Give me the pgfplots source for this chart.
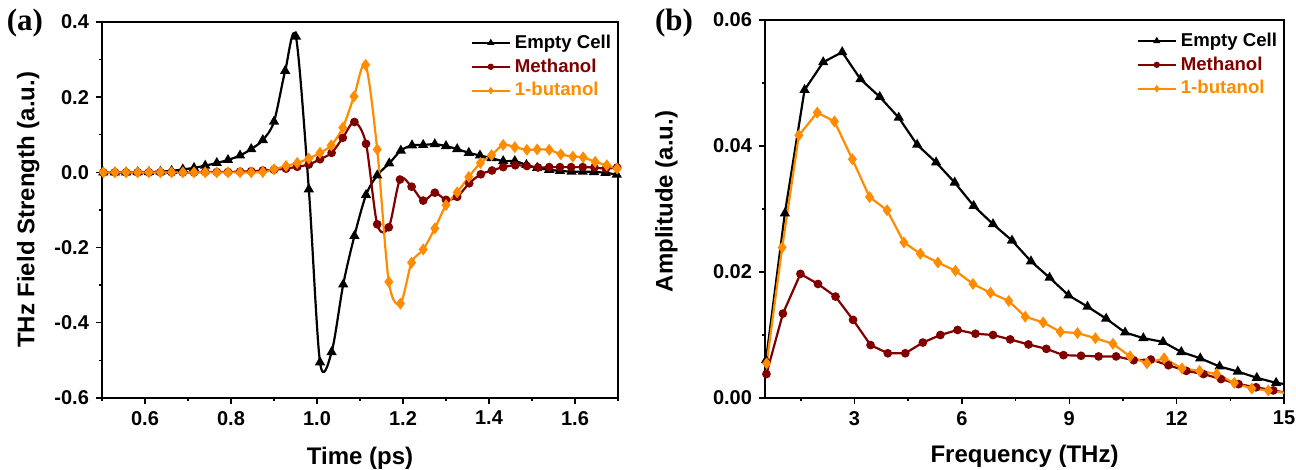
\documentclass[border=0pt]{standalone}
\usepackage{pgfplots}
\pgfplotsset{compat=1.18}
\usepackage{fontspec}
\setmainfont{Liberation Sans}
\newfontfamily\serifbf{Liberation Serif}
\definecolor{cred}{RGB}{128,0,0}
\definecolor{corange}{RGB}{255,140,0}
\pgfplotsset{
 myaxis/.style={
  scale only axis, anchor=south west,
  axis line style={line width=0.8pt},
  tick align=outside, xtick pos=bottom, ytick pos=left,
  major tick length=3pt, minor tick length=1.6pt,
  every tick/.style={black, line width=0.7pt},
  tick label style={font=\fontsize{10}{12}\selectfont\bfseries},
  label style={font=\fontsize{12}{14}\selectfont\bfseries},
  /pgf/number format/assume math mode=true,
  legend style={draw=none, fill=none, font=\fontsize{9.3}{11}\selectfont\bfseries,
     row sep=-0.3pt, inner sep=0pt, cells={anchor=west}},
  legend image code/.code={
     \draw[mark repeat=2, mark phase=2, #1, mark size=1pt] plot coordinates {(0pt,0pt) (9.5pt,0pt) (19pt,0pt)};
  },
 },
 blk/.style={black, line width=1.1pt, mark=triangle*, mark size=1.9pt, mark options={solid}},
 red/.style={cred, line width=1.1pt, mark=*, mark size=1.6pt, mark options={solid}},
 org/.style={corange, line width=1.1pt, mark=diamond*, mark size=2.1pt, mark options={solid}},
}
\begin{document}
\begin{tikzpicture}
\path[use as bounding box] (0,0) rectangle (648pt,235pt);
\node[font=\serifbf\fontsize{15.5}{17}\selectfont\bfseries] at (12.5pt,223.5pt) {(a)};
\node[font=\serifbf\fontsize{15.5}{17}\selectfont\bfseries] at (337pt,223.5pt) {(b)};
\begin{axis}[myaxis, at={(51pt,36pt)}, width=258pt, height=188pt,
  xmin=0.5, xmax=1.7, ymin=-0.6, ymax=0.4,
  xtick={0.6,0.8,...,1.61}, minor xtick={0.5,0.7,...,1.71},
  ytick={-0.6,-0.4,...,0.41}, minor ytick={-0.5,-0.3,...,0.31},
  xticklabel style={/pgf/number format/.cd, fixed, fixed zerofill, precision=1},
  yticklabel style={/pgf/number format/.cd, fixed, fixed zerofill, precision=1},
  xlabel={Time (ps)}, ylabel={THz Field Strength (a.u.)},
  xlabel style={at={(axis description cs:0.5,-0.16)}, anchor=center},
  ylabel style={at={(axis description cs:-0.143,0.5)}, anchor=center},
  legend style={at={(rel axis cs:0.995,0.978)}, anchor=north east},
]
\addplot[blk, smooth] coordinates {
(0.503,0.000) (0.530,0.000) (0.556,0.000) (0.583,0.001) (0.609,0.001) (0.636,0.002)
(0.662,0.004) (0.688,0.008) (0.714,0.012) (0.740,0.018) (0.767,0.025) (0.793,0.033)
(0.821,0.045) (0.847,0.062) (0.874,0.086) (0.900,0.135) (0.926,0.270) (0.951,0.361)
(0.981,-0.045) (1.007,-0.505) (1.034,-0.478) (1.061,-0.298) (1.087,-0.169) (1.114,-0.060)
(1.140,-0.008) (1.168,0.024) (1.195,0.058) (1.221,0.072) (1.247,0.073) (1.274,0.075)
(1.300,0.070) (1.326,0.062) (1.353,0.052) (1.379,0.045) (1.406,0.038) (1.433,0.030)
(1.460,0.030) (1.487,0.020) (1.512,0.012) (1.540,0.007) (1.565,0.004) (1.592,0.002)
(1.618,0.002) (1.644,0.001) (1.671,-0.001) (1.697,-0.006)};
\addlegendentry{\textcolor{black}{Empty Cell}}
\addplot[red, smooth] coordinates {
(0.503,0.000) (0.530,0.000) (0.556,0.000) (0.583,0.000) (0.609,0.000) (0.636,0.000)
(0.662,0.000) (0.688,0.000) (0.714,0.000) (0.740,0.001) (0.767,0.001) (0.793,0.001)
(0.821,0.002) (0.847,0.003) (0.874,0.005) (0.900,0.007) (0.928,0.010) (0.954,0.015)
(0.981,0.021) (1.007,0.035) (1.034,0.052) (1.060,0.092) (1.087,0.134) (1.114,0.076)
(1.140,-0.138) (1.167,-0.146) (1.193,-0.019) (1.220,-0.038) (1.247,-0.075) (1.274,-0.054)
(1.300,-0.073) (1.326,-0.065) (1.354,-0.029) (1.381,-0.005) (1.407,0.005) (1.433,0.014)
(1.461,0.019) (1.488,0.017) (1.514,0.013) (1.540,0.014) (1.565,0.014) (1.591,0.014)
(1.618,0.014) (1.645,0.013) (1.672,0.010) (1.698,0.013)};
\addlegendentry{\textcolor{cred}{Methanol}}
\addplot[org, smooth] coordinates {
(0.503,0.000) (0.530,0.000) (0.556,0.000) (0.583,0.000) (0.609,0.000) (0.636,0.000)
(0.662,0.000) (0.688,0.000) (0.714,0.000) (0.740,0.000) (0.767,0.000) (0.793,0.000)
(0.821,0.000) (0.847,0.000) (0.874,0.001) (0.900,0.008) (0.928,0.017) (0.954,0.025)
(0.981,0.037) (1.007,0.052) (1.033,0.072) (1.060,0.119) (1.086,0.202) (1.113,0.286)
(1.140,0.061) (1.167,-0.291) (1.194,-0.349) (1.220,-0.240) (1.247,-0.205) (1.274,-0.149)
(1.300,-0.087) (1.326,-0.053) (1.353,-0.012) (1.380,0.025) (1.406,0.046) (1.433,0.073)
(1.460,0.067) (1.488,0.060) (1.512,0.061) (1.540,0.060) (1.567,0.048) (1.595,0.042)
(1.619,0.040) (1.647,0.028) (1.674,0.019) (1.698,0.010)};
\addlegendentry{\textcolor{corange}{1-butanol}}
\end{axis}
\begin{axis}[myaxis, at={(382.5pt,36pt)}, width=259.5pt, height=189pt,
  xmin=0.5, xmax=15, ymin=0, ymax=0.06,
  xtick={3,6,9,12,15}, minor xtick={1.5,4.5,7.5,10.5,13.5},
  ytick={0,0.02,0.04,0.06}, minor ytick={0.01,0.03,0.05},
  yticklabel style={/pgf/number format/.cd, fixed, fixed zerofill, precision=2},
  scaled y ticks=false,
  xlabel={Frequency (THz)}, ylabel={Amplitude (a.u.)},
  xlabel style={at={(axis description cs:0.5,-0.155)}, anchor=center},
  ylabel style={at={(axis description cs:-0.19,0.52)}, anchor=center},
  legend style={at={(rel axis cs:0.995,0.978)}, anchor=north east},
]
\addplot[blk] coordinates {
(0.528,0.0060) (1.055,0.0293) (1.605,0.0489) (2.126,0.0533) (2.657,0.0549) (3.167,0.0506)
(3.706,0.0478) (4.236,0.0445) (4.750,0.0402) (5.28,0.0374) (5.80,0.0342) (6.33,0.0305)
(6.87,0.0276) (7.40,0.0250) (7.93,0.0217) (8.45,0.0191) (8.98,0.0163) (9.51,0.0145)
(10.03,0.0126) (10.56,0.0104) (11.07,0.0095) (11.62,0.0089) (12.13,0.0073) (12.66,0.0063)
(13.20,0.0050) (13.71,0.0042) (14.24,0.0032) (14.78,0.0024) (15.31,0.0020)};
\addlegendentry{\textcolor{black}{Empty Cell}}
\addplot[red] coordinates {
(0.54,0.0038) (1.00,0.0134) (1.49,0.0197) (1.98,0.0181) (2.47,0.0161) (2.96,0.0124)
(3.45,0.0084) (3.93,0.0071) (4.42,0.0071) (4.91,0.0088) (5.40,0.0100) (5.88,0.0108)
(6.38,0.0102) (6.87,0.0100) (7.35,0.0093) (7.86,0.0085) (8.36,0.0078) (8.84,0.0068)
(9.33,0.0067) (9.82,0.0066) (10.31,0.0066) (10.80,0.0060) (11.28,0.0061) (11.77,0.0052)
(12.27,0.0043) (12.75,0.0038) (13.24,0.0030) (13.73,0.0022) (14.22,0.0017) (14.70,0.0012)
(15.19,0.0007)};
\addlegendentry{\textcolor{cred}{Methanol}}
\addplot[org] coordinates {
(0.546,0.0055) (0.98,0.0239) (1.446,0.0417) (1.96,0.0453) (2.44,0.0439) (2.94,0.0379)
(3.42,0.0319) (3.91,0.0298) (4.38,0.0247) (4.84,0.0229) (5.33,0.0215) (5.82,0.0202)
(6.31,0.0181) (6.80,0.0167) (7.31,0.0154) (7.77,0.0129) (8.27,0.0120) (8.75,0.0105)
(9.23,0.0103) (9.73,0.0095) (10.22,0.0086) (10.70,0.0066) (11.17,0.0055) (11.65,0.0063)
(12.15,0.0047) (12.64,0.0043) (13.12,0.0038) (13.61,0.0024) (14.10,0.0015) (14.56,0.0012)
(15.04,0.0008)};
\addlegendentry{\textcolor{corange}{1-butanol}}
\end{axis}
\end{tikzpicture}
\end{document}
